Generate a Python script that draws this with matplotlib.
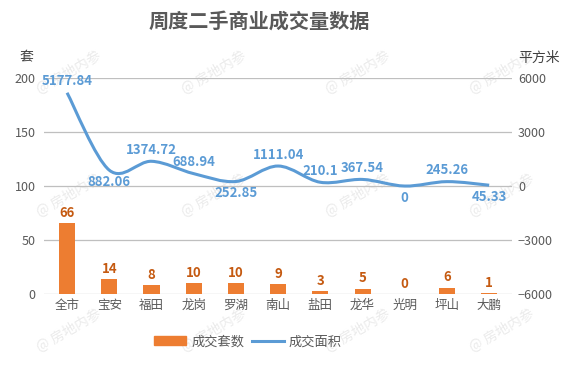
import numpy as np
import matplotlib
matplotlib.use("Agg")
import matplotlib.pyplot as plt
from matplotlib.path import Path
from matplotlib.patches import PathPatch
from matplotlib.lines import Line2D
from matplotlib.patches import Patch

plt.rcParams['font.family'] = ['Noto Sans CJK SC', 'DejaVu Sans']

districts = ['全市', '宝安', '福田', '龙岗', '罗湖', '南山', '盐田', '龙华', '光明', '坪山', '大鹏']
units = [66, 14, 8, 10, 10, 9, 3, 5, 0, 6, 1]
area = [5177.84, 882.06, 1374.72, 688.94, 252.85, 1111.04, 210.1, 367.54, 0, 245.26, 45.33]
area_labels = ['5177.84', '882.06', '1374.72', '688.94', '252.85', '1111.04', '210.1', '367.54', '0', '245.26', '45.33']
label_below = [False, True, False, False, True, False, False, False, True, False, True]

bar_color = '#ED7D31'
line_color = '#5B9BD5'
txt = '#595959'

fig = plt.figure(figsize=(5.77, 3.84), dpi=100)
ax = fig.add_axes([0.076, 0.234, 0.812, 0.563])
ax.patch.set_visible(False)
ax2 = ax.twinx()

x = np.arange(len(districts))
ax.bar(x, units, width=0.38, color=bar_color, zorder=2)
for xi, v in zip(x, units):
    ax.text(xi, v + 3, str(v), ha='center', va='bottom', color='#C55A11',
            fontsize=9.5, fontweight='bold')

ax.set_ylim(0, 200)
ax.set_yticks([0, 50, 100, 150, 200])
ax.set_xlim(-0.55, len(districts) - 0.45)
ax.set_xticks(x)
ax.set_xticklabels(districts)
ax.grid(axis='y', color='#BFBFBF', linewidth=0.9, zorder=0)
ax.set_axisbelow(True)
for s in ax.spines.values():
    s.set_visible(False)
for s in ax2.spines.values():
    s.set_visible(False)
ax.tick_params(axis='both', length=0, colors=txt, labelsize=9)
ax.tick_params(axis='y', pad=6)

ax2.set_ylim(-6000, 6000)
ax2.set_yticks([-6000, -3000, 0, 3000, 6000])
ax2.tick_params(axis='y', length=0, colors=txt, labelsize=9, pad=4)

# smooth curve (Catmull-Rom as cubic Bezier), like a spreadsheet smoothed line
pts = np.column_stack([x, area]).astype(float)
verts = [tuple(pts[0])]
codes = [Path.MOVETO]
n = len(pts)
for i in range(n - 1):
    p0 = pts[max(i - 1, 0)]
    p1 = pts[i]
    p2 = pts[i + 1]
    p3 = pts[min(i + 2, n - 1)]
    c1 = p1 + (p2 - p0) / 6.0
    c2 = p2 - (p3 - p1) / 6.0
    verts += [tuple(c1), tuple(c2), tuple(p2)]
    codes += [Path.CURVE4] * 3
ax2.add_patch(PathPatch(Path(verts, codes), facecolor='none', edgecolor=line_color,
                        linewidth=2.2, zorder=3))

for xi, v, lab, below in zip(x, area, area_labels, label_below):
    dy = -250 if below else 250
    ax2.text(xi, v + dy, lab, ha='center', va='top' if below else 'bottom',
             color=line_color, fontsize=9.5, fontweight='bold', zorder=4)

fig.text(0.45, 0.945, '周度二手商业成交量数据', ha='center', va='center',
         fontsize=14.5, fontweight='bold', color=txt)
fig.text(0.045, 0.85, '套', ha='center', va='center', fontsize=10, color='#404040')
fig.text(0.935, 0.85, '平方米', ha='center', va='center', fontsize=10, color='#404040')

handles = [Patch(color=bar_color), Line2D([0], [0], color=line_color, linewidth=2.2)]
fig.legend(handles, ['成交套数', '成交面积'], loc='center', bbox_to_anchor=(0.43, 0.11),
           ncol=2, frameon=False, fontsize=9.5, handlelength=2.4, columnspacing=0.6,
           handletextpad=0.4, labelcolor=txt)

# faint watermark
for wy in [0.81, 0.49, 0.14]:
    for wx in [0.12, 0.37, 0.62, 0.87]:
        fig.text(wx, wy, '@ 房地内参', rotation=30, ha='center', va='center',
                 fontsize=10, color='#EBEBEB', zorder=-1)

fig.savefig('out.png', dpi=100)
